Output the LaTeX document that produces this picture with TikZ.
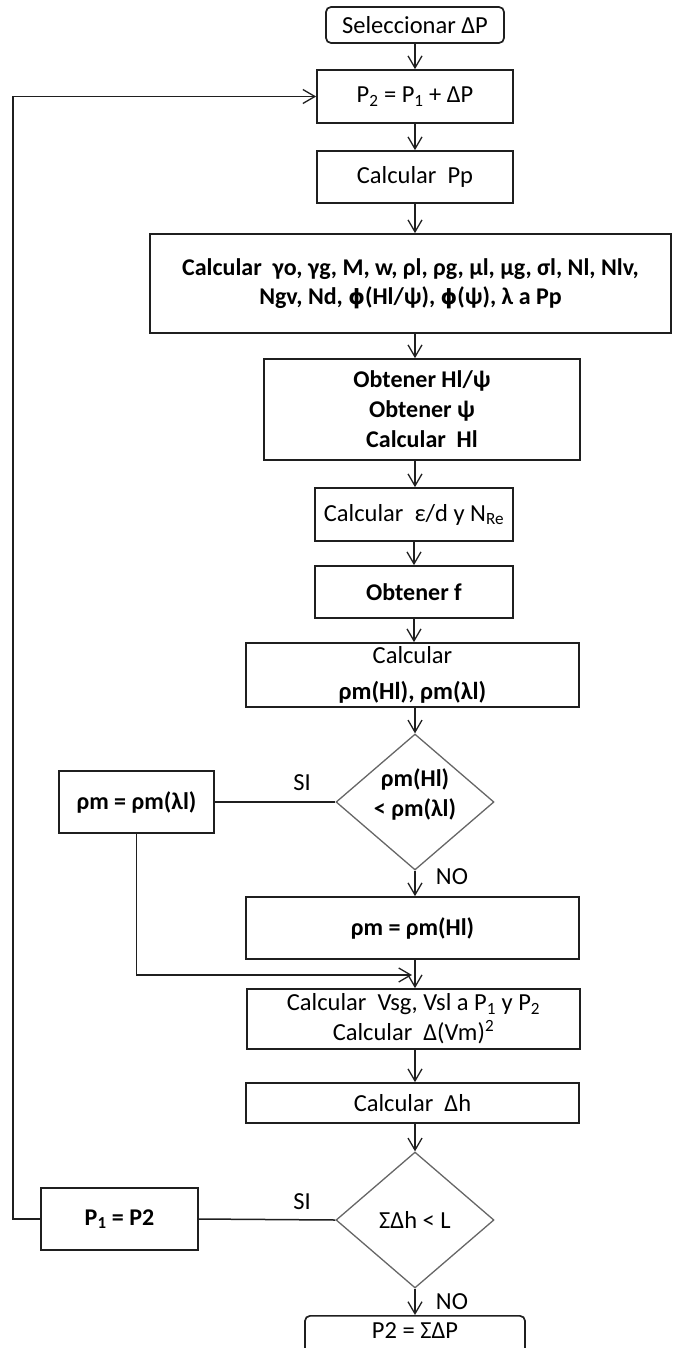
\documentclass[tikz,border=0pt]{standalone}
\usepackage{fontspec}
\setmainfont{Carlito}
\newfontfamily\gkfont{DejaVu Sans}
\usetikzlibrary{shapes.geometric,arrows.meta}
\newcommand{\sbs}[1]{\textsubscript{#1}}
\newcommand{\sps}[1]{\textsuperscript{#1}}
\newcommand{\phisym}{{\gkfont\fontsize{21}{29}\selectfont ϕ}}
\begin{document}
\begin{tikzpicture}[x=1pt,y=-1pt,
  every node/.style={font=\fontsize{24.5}{29}\selectfont, text=black},
  box/.style={draw=black!88, line width=1.7pt, rectangle, inner sep=0pt, align=center},
  term/.style={box, rounded corners=5pt},
  dec/.style={draw=black!60, line width=1.3pt, diamond, inner sep=0pt, minimum width=158pt, minimum height=136pt, aspect=1.16},
  flow/.style={draw=black!88, line width=1.5pt},
  lbl/.style={inner sep=0pt, align=center},
  >={Straight Barb[length=12pt,width=14pt,line width=1.3pt]}]
\useasboundingbox (0,0) rectangle (673,1348);

\node[term, minimum width=178pt, minimum height=36pt] (start) at (415,25) {Seleccionar ΔP};
\node[box, minimum width=196pt, minimum height=53pt] (p2) at (415,96.5) {P\sbs{2} = P\sbs{1} + ΔP};
\node[box, minimum width=196pt, minimum height=52pt] (pp) at (415,177) {Calcular\ \ Pp};
\node[box, minimum width=521pt, minimum height=99pt, font=\bfseries\fontsize{24}{29}\selectfont] (big) at (410.5,283.5)
  {Calcular\ \ γo, γg, M, w,\ ρl, ρg, μl, μg, σl, Nl, Nlv,\\ Ngv, Nd, \phisym(Hl/ψ), \phisym(ψ), λ a Pp};
\node[box, minimum width=316pt, minimum height=101pt, font=\bfseries\fontsize{24}{30}\selectfont] (obt) at (422,409.5)
  {Obtener Hl/ψ\\ Obtener ψ\\ Calcular\ \ Hl};
\node[box, minimum width=198pt, minimum height=53pt] (eps) at (414,514.5) {Calcular\ \ ε/d y N\sbs{Re}};
\node[box, minimum width=198pt, minimum height=52pt, font=\bfseries\fontsize{24}{29}\selectfont] (f) at (414,592) {Obtener f};
\node[box, minimum width=333pt, minimum height=64pt, font=\fontsize{24.5}{36}\selectfont] (rho) at (412.5,675)
  {Calcular\\ \textbf{ρm(Hl), ρm(λl)}};
\node[dec] (d1) at (415,802) {};
\node[lbl, font=\bfseries\fontsize{24}{30}\selectfont] (d1t) at (415,794) {ρm(Hl)\\ < ρm(λl)};
\node[box, minimum width=155pt, minimum height=62pt, font=\bfseries\fontsize{24}{29}\selectfont] (rl) at (136.5,802) {ρm = ρm(λl)};
\node[box, minimum width=333pt, minimum height=62pt, font=\bfseries\fontsize{24}{29}\selectfont] (rh) at (412.5,928) {ρm = ρm(Hl)};
\node[box, minimum width=333pt, minimum height=60pt, font=\fontsize{24.5}{30}\selectfont] (vsg) at (413.5,1019)
  {Calcular\ \ Vsg, Vsl a P\sbs{1} y P\sbs{2}\\ Calcular\ \ Δ(Vm)\sps{2}};
\node[box, minimum width=333pt, minimum height=40pt] (dh) at (412.5,1103) {Calcular\ \ Δh};
\node[dec] (d2) at (415,1220) {};
\node[lbl] (d2t) at (415,1220) {ΣΔh < L};
\node[box, minimum width=157pt, minimum height=62pt, font=\bfseries\fontsize{24}{29}\selectfont] (p1) at (119.5,1219) {P\sbs{1} = P2};
\node[term, minimum width=220pt, minimum height=50pt, anchor=north] (fin) at (415,1315) {};
\node[lbl, anchor=north] (fintxt) at (415,1322) {P2 = ΣΔP};

\node[lbl] (si1) at (302,783) {SI};
\node[lbl] (no1) at (452,877) {NO};
\node[lbl] (si2) at (302,1202) {SI};
\node[lbl] (no2) at (452,1302) {NO};

\coordinate (merge) at (412,975);

\draw[flow,->] (start) -- (p2);
\draw[flow,->] (p2) -- (pp);
\draw[flow,->] (pp.south) -- (pp.south |- big.north);
\draw[flow,->] (pp.south |- big.south) -- (pp.south |- obt.north);
\draw[flow,->] (pp.south |- obt.south) -- (eps.north -| pp.south);
\draw[flow,->] (eps) -- (f);
\draw[flow,->] (f.south) -- (f.south |- rho.north);
\draw[flow,->] (d1 |- rho.south) -- (d1.north);
\draw[flow] (d1.west) -- (rl.east);
\draw[flow,->] (d1.south) -- (d1.south |- rh.north);
\draw[flow,->] (rl.south) |- (merge);
\draw[flow,->] (d1 |- rh.south) -- (d1 |- vsg.north);
\draw[flow,->] (d1 |- vsg.south) -- (d1 |- dh.north);
\draw[flow,->] (d1 |- dh.south) -- (d2.north);
\draw[flow] (d2.west) -- (p1.east);
\draw[flow,->] (d2.south) -- (fin.north);
\draw[flow,->] (p1.west) -- ++(-27,0) |- (p2.west);
\end{tikzpicture}
\end{document}
